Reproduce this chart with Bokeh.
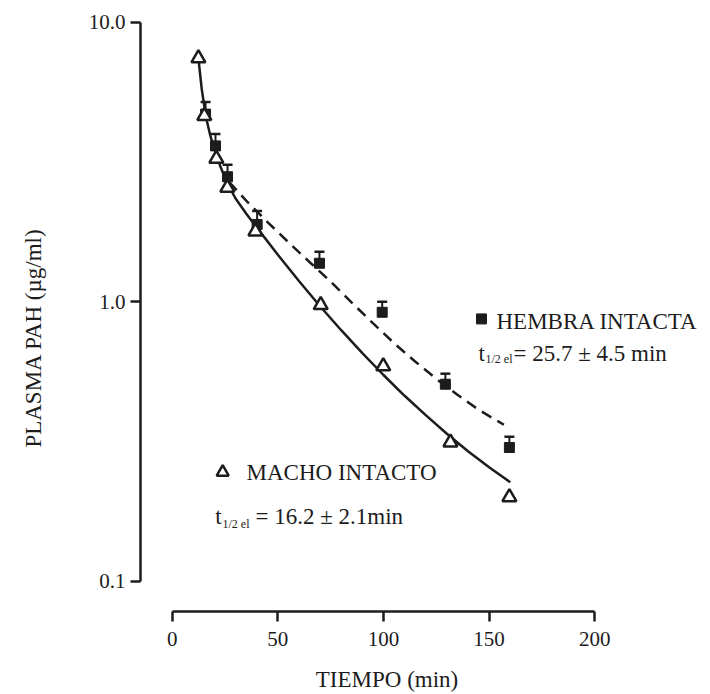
from bokeh.plotting import figure
from bokeh.models import Range1d, FixedTicker, Label, PrintfTickFormatter, LogAxis
from bokeh.embed import file_html
from bokeh.resources import INLINE

# ---- data ----
macho_t = [12.4, 15.2, 20.9, 26.1, 39.4, 70.3, 99.9, 131.7, 159.6]
macho_pah = [7.43, 4.62, 3.25, 2.56, 1.785, 0.973, 0.588, 0.314, 0.200]

hembra_t = [15.8, 20.5, 26.2, 40.2, 69.7, 99.4, 129.3, 159.6]
hembra_pah = [4.69, 3.61, 2.80, 1.89, 1.373, 0.917, 0.507, 0.301]
hembra_upper = [5.18, 3.98, 3.09, 2.11, 1.51, 1.00, 0.553, 0.329]

macho_fit_t = [12.4, 14, 16, 18, 20, 23, 26, 30, 35, 40, 50, 60, 70, 80, 90,
               100, 110, 120, 130, 140, 150, 160]
macho_fit_pah = [7.43, 5.75, 4.57, 3.94, 3.51, 3.02, 2.66, 2.34, 2.07, 1.845,
                 1.472, 1.186, 0.964, 0.791, 0.655, 0.547, 0.461, 0.393, 0.337,
                 0.292, 0.256, 0.226]

hembra_fit_t = [27, 35, 45, 55, 65, 75, 85, 95, 105, 115, 125, 135, 145, 157]
hembra_fit_pah = [2.679, 2.301, 1.932, 1.633, 1.387, 1.180, 0.993, 0.838, 0.711,
                  0.611, 0.530, 0.465, 0.411, 0.363]

x_ticks = [0, 50, 100, 150, 200]
y_ticks = [0.1, 1.0, 10.0]

INK = "#1c1c1c"
FONT = "Liberation Serif"
NB = "\u00a0"

p = figure(width=710, height=694, output_backend="svg", toolbar_location=None,
           y_axis_type="log",
           x_range=Range1d(-15.0, 251.0), y_range=Range1d(0.07799, 10.83),
           min_border_left=140, min_border_right=8, min_border_top=12,
           min_border_bottom=80)
p.outline_line_color = None
p.xgrid.grid_line_color = None
p.ygrid.grid_line_color = None
p.background_fill_color = "white"
p.border_fill_color = "white"

for ax in (p.xaxis[0], p.yaxis[0]):
    ax.axis_line_width = 2.5
    ax.axis_line_color = INK
    ax.major_tick_line_width = 2.5
    ax.major_tick_line_color = INK
    ax.major_tick_out = 10
    ax.major_tick_in = 0
    ax.minor_tick_line_color = None
    ax.major_label_text_font = FONT
    ax.major_label_text_font_size = "21px"
    ax.major_label_text_color = INK

p.xaxis.major_label_standoff = 10
p.yaxis.major_label_standoff = 5
p.xaxis.ticker = FixedTicker(ticks=x_ticks)
p.xaxis.bounds = (0, 200)
p.yaxis.ticker = FixedTicker(ticks=y_ticks, minor_ticks=[])
p.yaxis.bounds = (0.1, 10)
p.yaxis.formatter = PrintfTickFormatter(format="%.1f")

# trailing no-break spaces shift the centred titles to where the reference has them
p.xaxis.axis_label = "TIEMPO (min)" + NB * 12
p.xaxis.axis_label_text_font = FONT
p.xaxis.axis_label_text_font_size = "23px"
p.xaxis.axis_label_text_font_style = "normal"
p.xaxis.axis_label_text_color = INK
p.xaxis.axis_label_standoff = 18

ytitle = LogAxis(ticker=FixedTicker(ticks=[], minor_ticks=[]),
                 bounds=(0.0875, 6.20),
                 axis_label="PLASMA PAH (\u00b5g/ml)" + NB * 9,
                 axis_label_text_font=FONT, axis_label_text_font_size="23px",
                 axis_label_text_font_style="normal",
                 axis_label_text_color=INK, axis_label_standoff=40,
                 axis_line_color=None, major_tick_line_color=None,
                 minor_tick_line_color=None, major_label_text_font_size="0px")
p.add_layout(ytitle, "left")

# fitted curves
p.line(macho_fit_t, macho_fit_pah, line_color=INK, line_width=2.5)
p.line(hembra_fit_t, hembra_fit_pah, line_color=INK, line_width=2.5,
       line_dash="11 7")

# error bars (upper only)
p.segment(x0=hembra_t, y0=hembra_pah, x1=hembra_t, y1=hembra_upper,
          line_color=INK, line_width=2)
p.scatter(hembra_t, hembra_upper, marker="dash", size=10, line_color=INK,
          line_width=2.5)

# markers
p.scatter(hembra_t, hembra_pah, marker="square", size=10, fill_color=INK,
          line_color=INK, line_width=1)
p.scatter(macho_t, macho_pah, marker="triangle", size=14, fill_color="white",
          line_color=INK, line_width=2.5)

# legend-like annotations
p.scatter([146.4], [0.868], marker="square", size=10, fill_color=INK,
          line_color=INK)
p.scatter([23.9], [0.2457], marker="triangle", size=12, fill_color="white",
          line_color=INK, line_width=2.5)


def lab(x, y, text, size):
    p.add_layout(Label(x=x, y=y, text=text, text_font=FONT,
                       text_font_size=size, text_color=INK,
                       text_baseline="alphabetic", text_align="left"))


lab(153.5, 0.847, "HEMBRA INTACTA", "23px")
lab(145.0, 0.651, "t", "23px")
lab(148.3, 0.625, "1/2 el", "12px")
lab(161.5, 0.651, "= 25.7 \u00b1 4.5 min", "23px")

lab(35.2, 0.2457, "MACHO INTACTO", "23px")
lab(20.4, 0.170, "t", "23px")
lab(23.8, 0.1604, "1/2 el", "12px")
lab(39.4, 0.170, "= 16.2 \u00b1 2.1min", "23px")

open("out.html", "w").write(file_html(p, INLINE))
